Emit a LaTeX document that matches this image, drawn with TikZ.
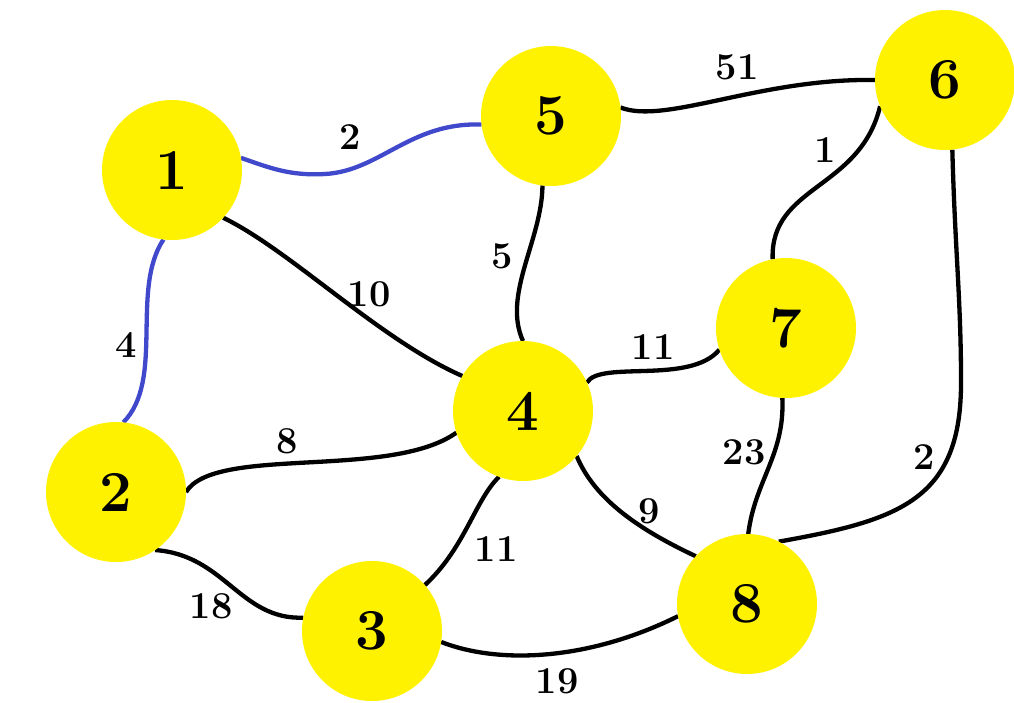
\documentclass[tikz,border=0pt]{standalone}
\usetikzlibrary{backgrounds}
\definecolor{nodeyellow}{RGB}{255,242,0}
\definecolor{edgeblue}{RGB}{64,72,204}
\begin{document}
\begin{tikzpicture}[x=1pt,y=-1pt,
  vertex/.style={circle,fill=nodeyellow,minimum size=140pt,inner sep=0pt,outer sep=0pt,
    font=\fontsize{58}{60}\selectfont\bfseries},
  edge/.style={line width=4.3pt,draw=black},
  bedge/.style={line width=4.3pt,draw=edgeblue},
  wlabel/.style={font=\fontsize{38}{40}\selectfont\bfseries,inner sep=0pt}]
\useasboundingbox (0,0) rectangle (1014,702);

\node[vertex] (n1) at (172,170) {1};
\node[vertex] (n2) at (116,492) {2};
\node[vertex] (n3) at (372,631) {3};
\node[vertex] (n4) at (523,411) {4};
\node[vertex] (n5) at (551,116) {5};
\node[vertex] (n6) at (945,80) {6};
\node[vertex] (n7) at (786,328) {7};
\node[vertex] (n8) at (747,604) {8};

\begin{scope}[on background layer]
\draw[bedge] (n1.10) .. controls (270,168) and (290,176) .. (325,174)
  .. controls (380,171) and (410,122) .. (n5.187);
\draw[bedge] (n1.263) .. controls (130,290) and (165,380) .. (n2.84);
\draw[edge] (n1.317) .. controls (290,250) and (380,340) .. (n4.150);
\draw[edge] (n5.7) .. controls (665,125) and (760,78) .. (n6.180);
\draw[edge] (n5.263) .. controls (542,240) and (502,295) .. (n4.90);
\draw[edge] (n6.202) .. controls (860,190) and (770,185) .. (n7.101);
\draw[edge] (n6.276) .. controls (955,250) and (961,300) .. (961,380)
  .. controls (962,500) and (900,520) .. (n8.63);
\draw[edge] (n4.24) .. controls (600,360) and (690,385) .. (n7.198);
\draw[edge] (n7.267) .. controls (785,455) and (755,480) .. (n8.89);
\draw[edge] (n4.320) .. controls (595,500) and (640,530) .. (n8.137);
\draw[edge] (n2.0) .. controls (215,445) and (390,480) .. (n4.198);
\draw[edge] (n2.304) .. controls (225,555) and (240,620) .. (n3.169);
\draw[edge] (n3.41) .. controls (465,548) and (475,500) .. (n4.250);
\draw[edge] (n3.351) .. controls (500,665) and (590,660) .. (n8.190);
\end{scope}

\node[wlabel] (w15) at (350,137) {2};
\node[wlabel] (w12) at (126,345) {4};
\node[wlabel] (w14) at (369,294) {10};
\node[wlabel] (w56) at (737,67) {51};
\node[wlabel] (w54) at (502,256) {5};
\node[wlabel] (w67) at (825,150) {1};
\node[wlabel] (w68) at (924,457) {2};
\node[wlabel] (w47) at (653,347) {11};
\node[wlabel] (w78) at (744,452) {23};
\node[wlabel] (w48) at (649,511) {9};
\node[wlabel] (w24) at (287,441) {8};
\node[wlabel] (w23) at (211,606) {18};
\node[wlabel] (w34) at (496,549) {11};
\node[wlabel] (w38) at (557,681) {19};
\end{tikzpicture}
\end{document}
